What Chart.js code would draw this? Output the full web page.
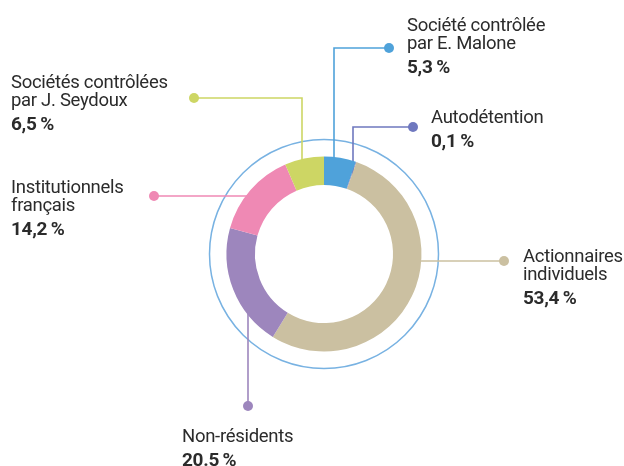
<!DOCTYPE html>
<html lang="fr">
<head>
<meta charset="utf-8">
<title>Répartition du capital</title>
<script src="https://cdn.jsdelivr.net/npm/chart.js@4/dist/chart.umd.min.js"></script>
<style>
    html, body { margin: 0; padding: 0; background: #fff; }
    #wrap { width: 624px; height: 466px; position: relative; }
</style>
</head>
<body>
<div id="wrap"><canvas id="capitalChart" width="624" height="466"></canvas></div>
<script>
// Shareholders, clockwise from 12 o'clock
const holders = ['Société contrôlée par E. Malone', 'Autodétention', 'Actionnaires individuels', 'Non-résidents', 'Institutionnels français', 'Sociétés contrôlées par J. Seydoux'];
const shares = [5.3, 0.1, 53.4, 20.5, 14.2, 6.5];
const shareLabels = ['5,3\u2009%', '0,1\u2009%', '53,4\u2009%', '20.5\u2009%', '14,2\u2009%', '6,5\u2009%'];
const nameLines = [
    ['Société contrôlée', 'par E. Malone'],
    ['Autodétention'],
    ['Actionnaires', 'individuels'],
    ['Non-résidents'],
    ['Institutionnels', 'français'],
    ['Sociétés contrôlées', 'par J. Seydoux']
];
const holderColors = ['#4fa2da', '#6f78bf', '#cbc0a1', '#9d86bd', '#ef89b4', '#cdd664'];

// Callout layout: dot position, optional elbow x, text block origin
const callouts = [
    { dot: [389, 48],  elbowX: 334,  text: [407, 31] },
    { dot: [413, 127], elbowX: 353,  text: [431, 123] },
    { dot: [504, 261], elbowX: null, leg: 'h', text: [523, 262] },
    { dot: [248, 406], elbowX: null, leg: 'v', text: [182, 442] },
    { dot: [154, 196], elbowX: null, leg: 'h', text: [11, 193] },
    { dot: [194, 98],  elbowX: 302,  text: [11, 88] }
];

const TEXT_COLOR = '#2b2b2b';
const HALO_COLOR = '#78b2e2';

function ringGeometry(chart) {
    const arc = chart.getDatasetMeta(0).data[0];
    return { cx: arc.x, cy: arc.y, outer: arc.outerRadius, inner: arc.innerRadius };
}

// Where a horizontal or vertical leg meets the middle of the ring
function ringPoint(g, from, vertical) {
    const r = (g.outer + g.inner) / 2;
    if (vertical) {
        const dx = from[0] - g.cx;
        const dy = Math.sqrt(Math.max(r * r - dx * dx, 0));
        return [from[0], from[1] < g.cy ? g.cy - dy : g.cy + dy];
    }
    const dy = from[1] - g.cy;
    const dx = Math.sqrt(Math.max(r * r - dy * dy, 0));
    return [from[0] < g.cx ? g.cx - dx : g.cx + dx, from[1]];
}

const calloutPlugin = {
    id: 'callouts',
    beforeDatasetsDraw(chart) {
        const ctx = chart.ctx;
        const g = ringGeometry(chart);

        // thin halo around the ring
        ctx.save();
        ctx.beginPath();
        ctx.arc(g.cx, g.cy, g.outer + 17, 0, Math.PI * 2);
        ctx.strokeStyle = HALO_COLOR;
        ctx.lineWidth = 1.5;
        ctx.stroke();

        // leader lines, tucked under the segments
        callouts.forEach((c, i) => {
            const pts = [c.dot];
            let end;
            if (c.elbowX !== null) {
                const elbow = [c.elbowX, c.dot[1]];
                pts.push(elbow);
                end = ringPoint(g, elbow, true);
            } else {
                end = ringPoint(g, c.dot, c.leg === 'v');
            }
            pts.push(end);
            ctx.beginPath();
            ctx.moveTo(pts[0][0], pts[0][1]);
            pts.slice(1).forEach(p => ctx.lineTo(p[0], p[1]));
            ctx.strokeStyle = holderColors[i];
            ctx.lineWidth = 1.6;
            ctx.stroke();
        });
        ctx.restore();
    },
    afterDraw(chart) {
        const ctx = chart.ctx;
        ctx.save();
        callouts.forEach((c, i) => {
            ctx.beginPath();
            ctx.arc(c.dot[0], c.dot[1], 5, 0, Math.PI * 2);
            ctx.fillStyle = holderColors[i];
            ctx.fill();

            ctx.fillStyle = TEXT_COLOR;
            ctx.textBaseline = 'alphabetic';
            ctx.textAlign = 'left';
            ctx.letterSpacing = '-0.3px';
            ctx.font = '18.5px Roboto';
            let y = c.text[1];
            nameLines[i].forEach((line, k) => {
                if (k > 0) y += 18;
                ctx.fillText(line, c.text[0], y);
            });
            ctx.font = 'bold 19px Roboto';
            ctx.fillText(shareLabels[i], c.text[0], y + 24);
        });
        ctx.restore();
    }
};

new Chart(document.getElementById('capitalChart'), {
    type: 'doughnut',
    data: {
        labels: holders,
        datasets: [{
            data: shares,
            backgroundColor: holderColors,
            borderWidth: 0,
            hoverOffset: 0
        }]
    },
    options: {
        responsive: false,
        animation: false,
        cutout: '70.8%',
        radius: 97.5,
        layout: {
            padding: { left: 228, right: 204, top: 158, bottom: 116 }
        },
        plugins: {
            legend: { display: false },
            tooltip: { enabled: false }
        },
        events: []
    },
    plugins: [calloutPlugin]
});
</script>
</body>
</html>
